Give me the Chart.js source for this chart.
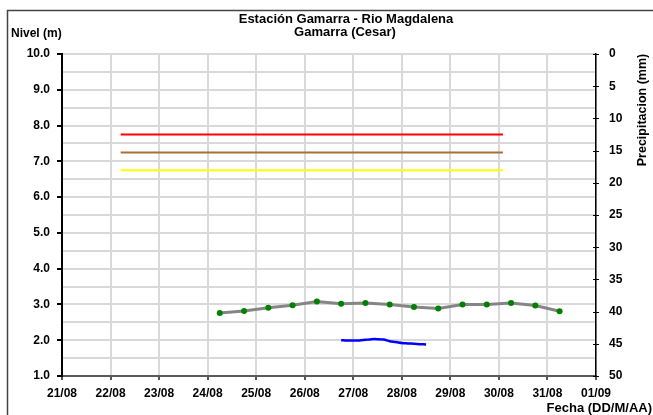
<!DOCTYPE html>
<html>
<head>
<meta charset="utf-8">
<script src="https://cdn.jsdelivr.net/npm/chart.js@4.4.1/dist/chart.umd.min.js"></script>
<style>
  html, body { margin: 0; padding: 0; background: #ffffff; }
  #wrap { width: 653px; height: 415px; position: relative; }
</style>
</head>
<body>
<div id="wrap"><canvas id="c" width="653" height="415"></canvas></div>
<script>
// ---- Data ----
const titleLines = ['Estación Gamarra - Rio Magdalena', 'Gamarra (Cesar)'];
const xTickLabels = ['21/08', '22/08', '23/08', '24/08', '25/08', '26/08', '27/08', '28/08', '29/08', '30/08', '31/08', '01/09'];

const thresholdLevels = [7.75, 7.25, 6.75];
const thresholdColors = ['#ff0000', '#a5703a', '#ffff00'];
const thresholdStart = '22/08 05:00';
const thresholdEnd = '30/08 02:00';

const levelTimes = ['24/08 06:00', '24/08 18:00', '25/08 06:00', '25/08 18:00', '26/08 06:00',
  '26/08 18:00', '27/08 06:00', '27/08 18:00', '28/08 06:00', '28/08 18:00',
  '29/08 06:00', '29/08 18:00', '30/08 06:00', '30/08 18:00', '31/08 06:00'];
const levelValues = [2.76, 2.82, 2.91, 2.98, 3.08, 3.02, 3.04, 3.00, 2.93, 2.89, 3.00, 3.00, 3.04, 2.97, 2.81];

const sensorTimes = ['26/08 18:00', '26/08 21:00', '27/08 00:00', '27/08 03:00', '27/08 06:00',
  '27/08 09:00', '27/08 12:00', '27/08 15:00', '27/08 18:00', '27/08 21:00',
  '28/08 00:00', '28/08 03:00', '28/08 06:00', '28/08 09:00', '28/08 12:00'];
const sensorValues = [2.00, 1.99, 1.99, 1.99, 2.01, 2.03, 2.03, 2.02, 1.97, 1.95, 1.92, 1.91, 1.90, 1.89, 1.88];

// convert "DD/MM HH:mm" to days since 21/08 00:00
function toDays(s) {
  const [d, t] = s.split(' ');
  const [dd, mm] = d.split('/').map(Number);
  const [hh, mi] = (t || '00:00').split(':').map(Number);
  const dayIndex = (mm === 8 ? dd : 31 + dd) - 21;
  return dayIndex + (hh + mi / 60) / 24;
}

const FONT = 'Liberation Sans, Arial, sans-serif';

const datasets = thresholdLevels.map((v, i) => ({
  data: [{ x: toDays(thresholdStart), y: v }, { x: toDays(thresholdEnd), y: v }],
  borderColor: thresholdColors[i],
  borderWidth: 2,
  pointRadius: 0,
  yAxisID: 'y'
}));
datasets.push({
  data: levelTimes.map((t, i) => ({ x: toDays(t), y: levelValues[i] })),
  borderColor: '#858585',
  borderWidth: 3,
  pointRadius: 3,
  pointBackgroundColor: '#008000',
  pointBorderWidth: 0,
  yAxisID: 'y'
});
datasets.push({
  data: sensorTimes.map((t, i) => ({ x: toDays(t), y: sensorValues[i] })),
  borderColor: '#0000ff',
  borderWidth: 2.5,
  pointRadius: 0,
  tension: 0.3,
  yAxisID: 'y'
});

const decor = {
  id: 'decor',
  beforeDraw(chart) {
    const ctx = chart.ctx;
    ctx.save();
    ctx.fillStyle = '#ffffff';
    ctx.fillRect(0, 0, chart.width, chart.height);
    ctx.strokeStyle = '#444444';
    ctx.lineWidth = 1.5;
    ctx.strokeRect(7.5, 10.5, 700, 500);
    ctx.restore();
  },
  afterDraw(chart) {
    const ctx = chart.ctx;
    ctx.save();
    ctx.fillStyle = '#000000';
    ctx.font = 'bold 13px ' + FONT;
    ctx.textAlign = 'center';
    ctx.textBaseline = 'middle';
    ctx.fillText(titleLines[0], 346, 19);
    ctx.fillText(titleLines[1], 345, 32);
    ctx.font = 'bold 12px ' + FONT;
    ctx.textAlign = 'left';
    ctx.fillText('Nivel (m)', 11, 34);
    ctx.font = 'bold 13px ' + FONT;
    ctx.textAlign = 'right';
    ctx.fillText('Fecha (DD/M/AA)', 652, 408);
    ctx.save();
    ctx.font = 'bold 12.5px ' + FONT;
    ctx.translate(643, 110);
    ctx.rotate(-Math.PI / 2);
    ctx.textAlign = 'center';
    ctx.fillText('Precipitacion (mm)', 0, 0);
    ctx.restore();
    // crossing ticks on right axis
    const y1 = chart.scales.y1;
    ctx.strokeStyle = '#000000';
    ctx.lineWidth = 1;
    y1.ticks.forEach(t => {
      const yy = Math.round(y1.getPixelForValue(t.value)) + 0.5;
      ctx.beginPath();
      ctx.moveTo(y1.left - 3, yy);
      ctx.lineTo(y1.left + 3, yy);
      ctx.stroke();
    });
    ctx.restore();
  }
};

new Chart(document.getElementById('c'), {
  type: 'line',
  data: { datasets },
  options: {
    responsive: false,
    animation: false,
    devicePixelRatio: 1,
    layout: { padding: { top: 54, left: 0, right: 0, bottom: 0 } },
    plugins: { legend: { display: false }, tooltip: { enabled: false }, title: { display: false } },
    scales: {
      x: {
        type: 'linear',
        min: 0, max: 11,
        afterFit(s) { s.height = 39; },
        ticks: {
          stepSize: 1,
          autoSkip: false,
          maxRotation: 0,
          padding: 6,
          color: '#000000',
          font: { family: FONT, size: 12, weight: 'bold' },
          callback: (v) => xTickLabels[v] !== undefined ? xTickLabels[v] : ''
        },
        grid: { color: '#d9d9d9', lineWidth: 2, tickLength: 4, tickColor: '#555555' },
        border: { color: '#5a5a5a', width: 2 }
      },
      y: {
        position: 'left',
        min: 1, max: 10,
        afterFit(s) { s.width = 62; },
        ticks: {
          stepSize: 0.5,
          autoSkip: false,
          padding: 7,
          color: '#000000',
          font: { family: FONT, size: 12, weight: 'bold' },
          callback: (v) => (Math.abs(v - Math.round(v)) < 1e-6) ? v.toFixed(1) : ''
        },
        grid: {
          color: '#d9d9d9',
          lineWidth: 2,
          tickLength: 5,
          tickColor: (c) => (c.tick && Math.abs(c.tick.value - Math.round(c.tick.value)) < 1e-6) ? '#000000' : 'rgba(0,0,0,0)'
        },
        border: { color: '#000000', width: 2 }
      },
      y1: {
        position: 'right',
        min: 0, max: 50,
        reverse: true,
        afterFit(s) { s.width = 57; },
        ticks: {
          stepSize: 5,
          padding: 10,
          color: '#000000',
          font: { family: FONT, size: 12, weight: 'bold' }
        },
        grid: { drawOnChartArea: false, drawTicks: true, tickLength: 3, tickColor: 'rgba(0,0,0,0)' },
        border: { color: '#000000', width: 1.5 }
      }
    }
  },
  plugins: [decor]
});
</script>
</body>
</html>
